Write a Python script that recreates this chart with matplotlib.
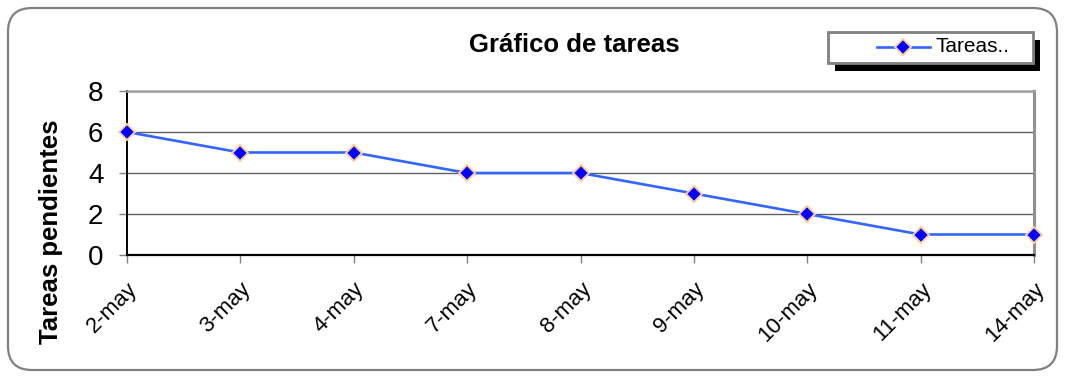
import matplotlib
matplotlib.use("Agg")
import matplotlib.pyplot as plt
from matplotlib.patches import FancyBboxPatch, Rectangle
from matplotlib.lines import Line2D
from matplotlib.transforms import IdentityTransform, ScaledTranslation

plt.rcParams['font.family'] = ['Liberation Sans', 'DejaVu Sans']

# Data
fechas = ["2-may", "3-may", "4-may", "7-may", "8-may", "9-may", "10-may", "11-may", "14-may"]
tareas = [6, 5, 5, 4, 4, 3, 2, 1, 1]
serie = "Tareas.."
titulo = "Gráfico de tareas"
eje_y = "Tareas pendientes"
y_ticks = [0, 2, 4, 6, 8]

W, H = 1065, 378
fig = plt.figure(figsize=(W / 100, H / 100), dpi=100)
fig.patch.set_facecolor("white")

# Rounded outer frame (pixel coordinates)
frame = FancyBboxPatch((8, 8), 1049, 362, boxstyle="round,pad=0,rounding_size=24",
                       transform=IdentityTransform(), fill=False,
                       edgecolor="#808080", linewidth=1.6)
fig.patches.append(frame)

ax = fig.add_axes([127 / W, 123 / H, 907 / W, 164 / H])
x = list(range(len(fechas)))
line_color = "#3366FF"
marker_style = dict(marker="D", markersize=8.5, markerfacecolor="#0000FF",
                    markeredgecolor="#FFCC99", markeredgewidth=1.4)
ax.plot(x, tareas, color=line_color, lw=1.9, label=serie, zorder=5, clip_on=False,
        **marker_style)

ax.set_xlim(0, len(fechas) - 1)
ax.set_ylim(0, 8)
ax.set_yticks(y_ticks)
ax.set_xticks(x)
ax.set_xticklabels(fechas, rotation=45, ha="right", va="top", rotation_mode="anchor",
                   fontsize=16)
for lbl in ax.get_xticklabels():
    lbl.set_transform(lbl.get_transform() + ScaledTranslation(-3 / 72, 0, fig.dpi_scale_trans))
ax.tick_params(axis="y", labelsize=20, length=6, width=1, color="#808080", pad=11)
ax.tick_params(axis="x", length=6, width=1, color="#808080", pad=11)

ax.grid(axis="y", color="#606060", lw=1)
ax.set_axisbelow(True)
ax.spines["left"].set_color("black")
ax.spines["left"].set_linewidth(1.4)
ax.spines["bottom"].set_color("black")
ax.spines["bottom"].set_linewidth(1.6)
ax.spines["top"].set_color("#a0a0a0")
ax.spines["top"].set_linewidth(1.8)
ax.spines["right"].set_color("#909090")
ax.spines["right"].set_linewidth(2.2)

ax.set_ylabel(eje_y, fontsize=18.5, fontweight="bold")
ax.yaxis.set_label_coords(-0.0705, 0.14)

fig.text(574 / W, 326 / H, titulo, ha="center", va="baseline",
         fontsize=18.5, fontweight="bold")

# Legend box with drop shadow (pixel coordinates)
tr = IdentityTransform()
fig.patches.append(Rectangle((835, 307), 205, 31, transform=tr, facecolor="black",
                             edgecolor="none"))
fig.patches.append(Rectangle((828, 315), 205, 31, transform=tr, facecolor="white",
                             edgecolor="#808080", linewidth=2))
fig.lines.append(Line2D([877, 930], [331, 331], transform=tr, color=line_color, lw=1.9))
fig.lines.append(Line2D([903], [331], transform=tr, **marker_style))
fig.text(935 / W, 331 / H, serie, ha="left", va="center", fontsize=15)

fig.savefig("out.png", dpi=100)
